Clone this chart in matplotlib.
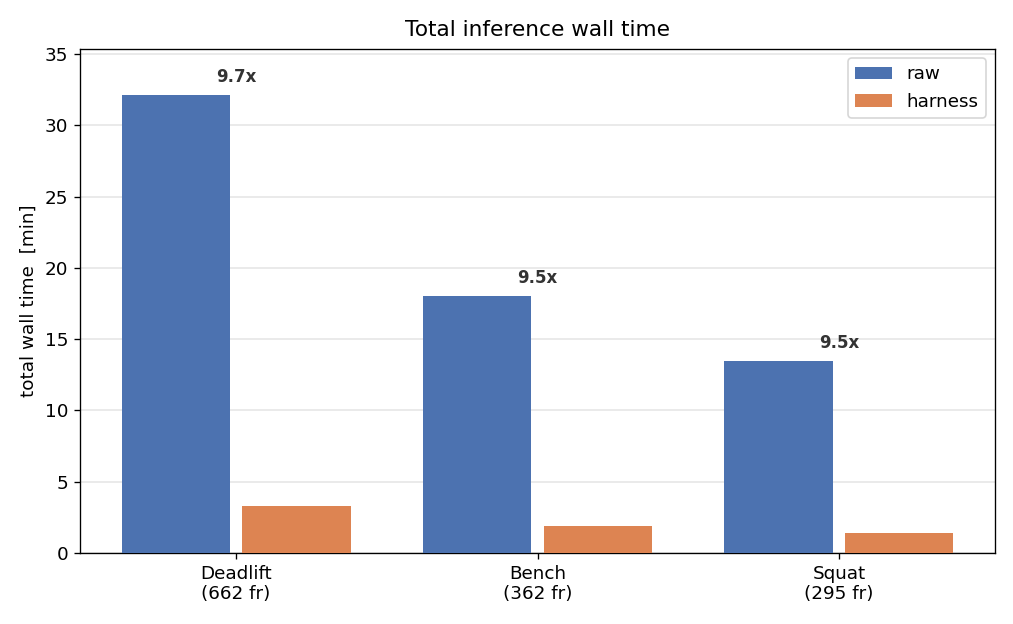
import matplotlib
matplotlib.use("Agg")
import matplotlib.pyplot as plt
import numpy as np

categories = ["Deadlift\n(662 fr)", "Bench\n(362 fr)", "Squat\n(295 fr)"]
raw = [32.15, 18.03, 13.47]
harness = [3.32, 1.90, 1.42]
speedup_labels = ["9.7x", "9.5x", "9.5x"]

DPI = 120
fig, ax = plt.subplots(figsize=(1014 / DPI, 624 / DPI), dpi=DPI)
fig.subplots_adjust(left=0.0789, right=0.9813, top=0.9215, bottom=0.1138)

x = np.arange(len(categories))
w = 0.36
ax.bar(x - 0.2, raw, w, color="#4C72B0", label="raw", zorder=3)
ax.bar(x + 0.2, harness, w, color="#DD8452", label="harness", zorder=3)

for xi, r, lab in zip(x, raw, speedup_labels):
    ax.text(xi, r + 0.6, lab, ha="center", va="bottom", fontsize=10,
            fontweight="bold", color="#333333")

ax.set_xticks(x)
ax.set_xticklabels(categories, fontsize=11)
ax.tick_params(axis="y", labelsize=11)
ax.set_ylim(0, max(raw) * 1.1)
ax.set_ylabel("total wall time  [min]", fontsize=11)
ax.set_title("Total inference wall time", fontsize=13, pad=8)
ax.yaxis.grid(True, color="#e6e6e6", linewidth=1, zorder=0)
ax.set_axisbelow(True)
ax.legend(loc="upper right", fontsize=11)

fig.savefig("out.png", dpi=DPI)
